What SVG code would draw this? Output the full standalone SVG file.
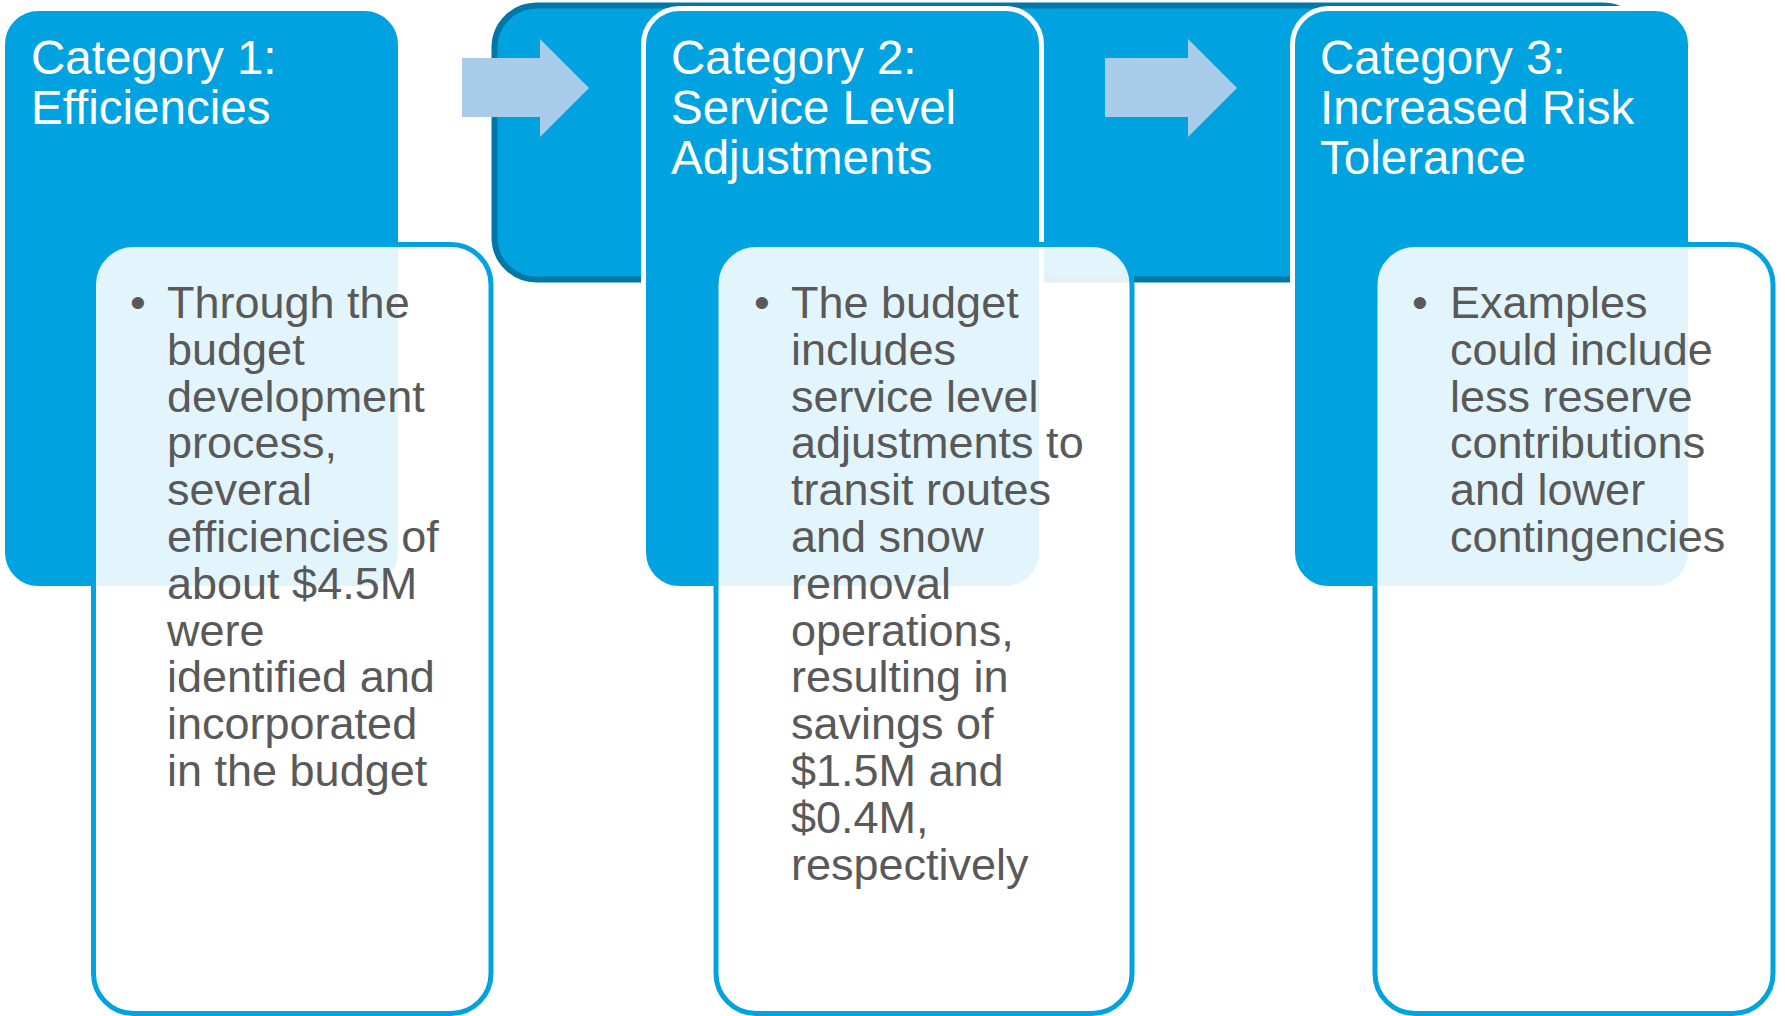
<svg xmlns="http://www.w3.org/2000/svg" width="1785" height="1016" viewBox="0 0 1785 1016">
  <style>
    .band { fill: #00A3DF; stroke: #0077A6; stroke-width: 6; }
    .head { fill: #00A3DF; stroke: #FFFFFF; stroke-width: 5; }
    .detail { fill: #FFFFFF; fill-opacity: 0.89; stroke: #00A3DF; stroke-width: 5; }
    .arrow { fill: #A9CCEA; }
    .title { font-family: "Liberation Sans", Arial, sans-serif; font-size: 47.5px; fill: #FFFFFF; }
    .body { font-family: "Liberation Sans", Arial, sans-serif; font-size: 45px; fill: #595959; }
  </style>

  <!-- shared backdrop band behind categories 2 and 3 -->
  <g id="band">
    <rect class="band" x="494.5" y="5.5" width="1150" height="274" rx="42" ry="42"/>
  </g>

  <!-- flow arrows between categories -->
  <g id="connectors">
    <polygon class="arrow" points="462,58 540,58 540,39 589,88 540,137 540,117 462,117"/>
    <polygon class="arrow" points="1105,58 1188,58 1188,39 1237,88 1188,137 1188,117 1105,117"/>
  </g>

  <!-- Category 1 -->
  <g id="cat1">
    <rect class="head" x="2.5" y="8.5" width="398" height="580" rx="36" ry="36"/>
    <text class="title" x="31"><tspan x="31" y="74">Category 1:</tspan><tspan x="31" y="124">Efficiencies</tspan></text>
    <rect class="detail" x="93.5" y="244.5" width="397.5" height="769" rx="40" ry="40"/>
    <text class="body" x="130" y="318">•</text>
    <text class="body">
      <tspan x="167" y="318">Through the</tspan>
      <tspan x="167" y="364.8">budget</tspan>
      <tspan x="167" y="411.6">development</tspan>
      <tspan x="167" y="458.4">process,</tspan>
      <tspan x="167" y="505.2">several</tspan>
      <tspan x="167" y="552">efficiencies of</tspan>
      <tspan x="167" y="598.8">about $4.5M</tspan>
      <tspan x="167" y="645.6">were</tspan>
      <tspan x="167" y="692.4">identified and</tspan>
      <tspan x="167" y="739.2">incorporated</tspan>
      <tspan x="167" y="786">in the budget</tspan>
    </text>
  </g>

  <!-- Category 2 -->
  <g id="cat2">
    <rect class="head" x="643.5" y="8.5" width="398" height="580" rx="36" ry="36"/>
    <text class="title"><tspan x="671" y="74">Category 2:</tspan><tspan x="671" y="124">Service Level</tspan><tspan x="671" y="174">Adjustments</tspan></text>
    <rect class="detail" x="716" y="244.5" width="416" height="769" rx="40" ry="40"/>
    <text class="body" x="754" y="318">•</text>
    <text class="body">
      <tspan x="791" y="318">The budget</tspan>
      <tspan x="791" y="364.8">includes</tspan>
      <tspan x="791" y="411.6">service level</tspan>
      <tspan x="791" y="458.4">adjustments to</tspan>
      <tspan x="791" y="505.2">transit routes</tspan>
      <tspan x="791" y="552">and snow</tspan>
      <tspan x="791" y="598.8">removal</tspan>
      <tspan x="791" y="645.6">operations,</tspan>
      <tspan x="791" y="692.4">resulting in</tspan>
      <tspan x="791" y="739.2">savings of</tspan>
      <tspan x="791" y="786">$1.5M and</tspan>
      <tspan x="791" y="832.8">$0.4M,</tspan>
      <tspan x="791" y="879.6">respectively</tspan>
    </text>
  </g>

  <!-- Category 3 -->
  <g id="cat3">
    <rect class="head" x="1292.5" y="8.5" width="398" height="580" rx="36" ry="36"/>
    <text class="title"><tspan x="1320" y="74">Category 3:</tspan><tspan x="1320" y="124">Increased Risk</tspan><tspan x="1320" y="174">Tolerance</tspan></text>
    <rect class="detail" x="1375" y="244.5" width="398" height="769" rx="40" ry="40"/>
    <text class="body" x="1412" y="318">•</text>
    <text class="body">
      <tspan x="1450" y="318">Examples</tspan>
      <tspan x="1450" y="364.8">could include</tspan>
      <tspan x="1450" y="411.6">less reserve</tspan>
      <tspan x="1450" y="458.4">contributions</tspan>
      <tspan x="1450" y="505.2">and lower</tspan>
      <tspan x="1450" y="552">contingencies</tspan>
    </text>
  </g>
</svg>
